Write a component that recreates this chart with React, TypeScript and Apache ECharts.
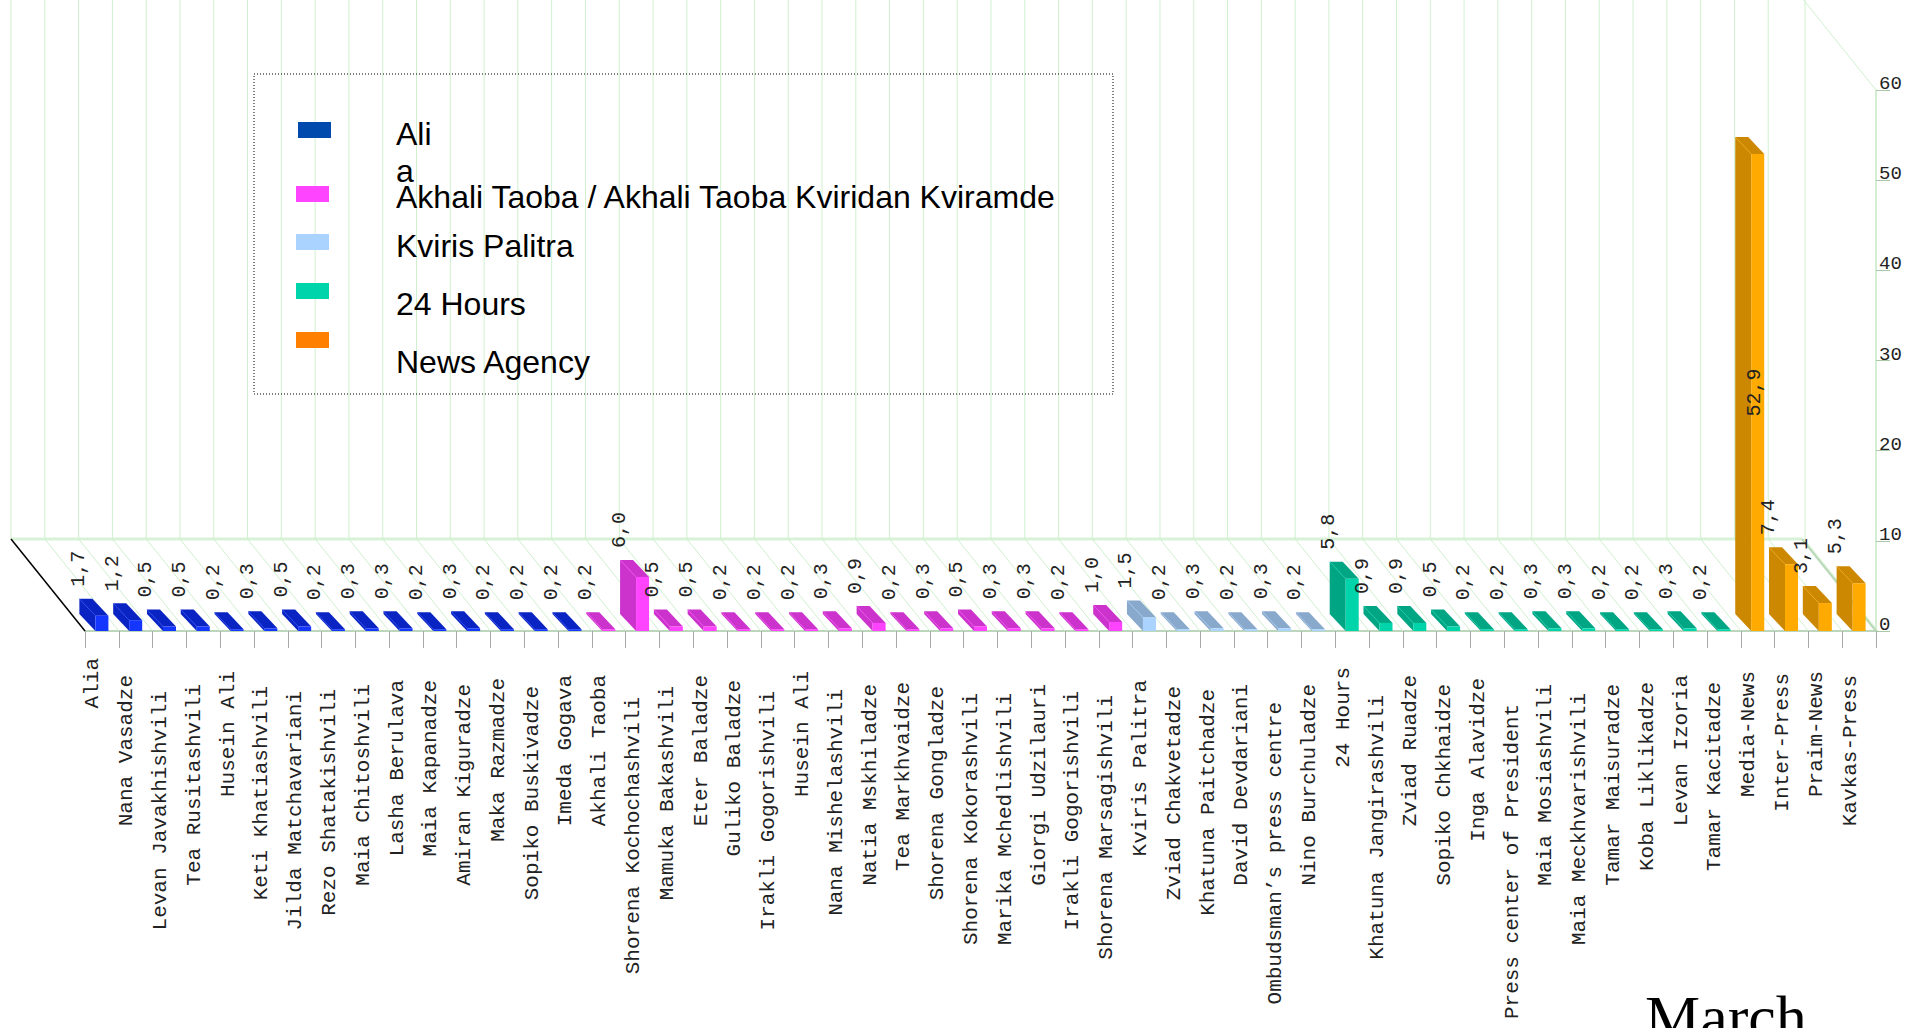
import React, { useEffect, useRef } from 'react';
import * as echarts from 'echarts';

const categories: string[] = [
  'Alia', 'Nana Vasadze', 'Levan Javakhishvili', 'Tea Rusitashvili', 'Husein Ali',
  'Keti Khatiashvili', 'Jilda Matchavariani', 'Rezo Shatakishvili', 'Maia Chitoshvili',
  'Lasha Berulava', 'Maia Kapanadze', 'Amiran Kiguradze', 'Maka Razmadze',
  'Sopiko Buskivadze', 'Imeda Gogava', 'Akhali Taoba', 'Shorena Kochochashvili',
  'Mamuka Bakashvili', 'Eter Baladze', 'Guliko Baladze', 'Irakli Gogorishvili',
  'Husein Ali', 'Nana Mishelashvili', 'Natia Mskhiladze', 'Tea Markhvaidze',
  'Shorena Gongladze', 'Shorena Kokorashvili', 'Marika Mchedlishvili', 'Giorgi Udzilauri',
  'Irakli Gogorishvili', 'Shorena Marsagishvili', 'Kviris Palitra', 'Zviad Chakvetadze',
  'Khatuna Paitchadze', 'David Devdariani', 'Ombudsman\u2019s press centre',
  'Nino Burchuladze', '24 Hours', 'Khatuna Jangirashvili', 'Zviad Ruadze',
  'Sopiko Chkhaidze', 'Inga Alavidze', 'Press center of President', 'Maia Mosiashvili',
  'Maia Meckhvarishvili', 'Tamar Maisuradze', 'Koba Liklikadze', 'Levan Izoria',
  'Tamar Kacitadze', 'Media-News', 'Inter-Press', 'Praim-News', 'Kavkas-Press',
];

const aliaValues = [1.7, 1.2, 0.5, 0.5, 0.2, 0.3, 0.5, 0.2, 0.3, 0.3, 0.2, 0.3, 0.2, 0.2, 0.2];
const akhaliTaobaValues = [0.2, 6.0, 0.5, 0.5, 0.2, 0.2, 0.2, 0.3, 0.9, 0.2, 0.3, 0.5, 0.3, 0.3, 0.2, 1.0];
const kvirisPalitraValues = [1.5, 0.2, 0.3, 0.2, 0.3, 0.2];
const hours24Values = [5.8, 0.9, 0.9, 0.5, 0.2, 0.2, 0.3, 0.3, 0.2, 0.2, 0.3, 0.2];
const newsAgencyValues = [52.9, 7.4, 3.1, 5.3];

const seriesNames = [
  'Alia',
  'Akhali Taoba / Akhali Taoba Kviridan Kviramde',
  'Kviris Palitra',
  '24 Hours',
  'News Agency',
];
const legendLabels = [
  'Ali\na',
  'Akhali Taoba / Akhali Taoba Kviridan Kviramde',
  'Kviris Palitra',
  '24 Hours',
  'News Agency',
];
const yMin = 0;
const yMax = 60;
const yStep = 10;
const periodLabel = 'March';

// styles
const sideColors = ['#0a24c4', '#cc33cc', '#88a8cc', '#00a684', '#cc8800'];
const frontColors = ['#1436ff', '#ff44ff', '#aad4ff', '#00d4aa', '#ffaa00'];
const legendColors = ['#004aad', '#ff44ff', '#aad4ff', '#00d4aa', '#ff7f00'];
const MONO = '"Liberation Mono", "Courier New", monospace';
const SANS = '"Liberation Sans", Arial, sans-serif';
const SERIF = '"Liberation Serif", "Times New Roman", serif';
const GRID_GREEN = '#cff0cf';
const BDX = -74; // depth of floor
const BDY = -92;
const DX = -16; // depth of bars
const DY = -17;
const BAR_RATIO = 0.385;

function fmt(v: number) {
  return v.toFixed(1).replace('.', ',');
}

function buildSeriesData() {
  const groups = [aliaValues, akhaliTaobaValues, kvirisPalitraValues, hours24Values, newsAgencyValues];
  let offset = 0;
  return groups.map((vals) => {
    const d = vals.map((v, i) => [offset + i, v]);
    offset += vals.length;
    return d;
  });
}

function makeBarRender(gi: number) {
  return (params: any, api: any) => {
    const ci = api.value(0);
    const v = api.value(1);
    const top = api.coord([ci, v]);
    const base = api.coord([ci, 0]);
    const band = api.size([1, 0])[0];
    const w = band * BAR_RATIO;
    const xl = top[0] - w / 2;
    const xr = xl + w;
    const yt = top[1];
    const yb = base[1];
    const gridTop = api.coord([ci, yMax])[1];
    const side = sideColors[gi];
    const front = frontColors[gi];
    const text = fmt(v);
    const labelBottom = yt + DY - 12;
    const textLen = text.length * 12;
    const inside = labelBottom - textLen < gridTop;
    const label = inside
      ? {
          type: 'text',
          x: xl + 3,
          y: (yt + yb) / 2,
          rotation: Math.PI / 2,
          style: { text, font: `20px ${MONO}`, fill: '#222', align: 'center', verticalAlign: 'middle' },
        }
      : {
          type: 'text',
          x: xl + DX - 1,
          y: labelBottom,
          rotation: Math.PI / 2,
          style: { text, font: `20px ${MONO}`, fill: '#222', align: 'left', verticalAlign: 'middle' },
        };
    return {
      type: 'group',
      children: [
        {
          type: 'polygon',
          shape: { points: [[xl, yb], [xl, yt], [xl + DX, yt + DY], [xl + DX, yb + DY]] },
          style: { fill: side },
        },
        {
          type: 'polygon',
          shape: { points: [[xl, yt], [xr, yt], [xr + DX, yt + DY], [xl + DX, yt + DY]] },
          style: { fill: side },
        },
        {
          type: 'line',
          shape: { x1: xl + DX, y1: yt + DY, x2: xl, y2: yt },
          style: { stroke: front, lineWidth: 0.8, opacity: 0.6 },
        },
        {
          type: 'rect',
          shape: { x: xl, y: yt, width: w, height: Math.max(0, yb - yt) },
          style: { fill: front },
        },
        label,
      ],
    };
  };
}

function frameRender(params: any, api: any) {
  const ci = api.value(0);
  const p = api.coord([ci, 0]);
  const band = api.size([1, 0])[0];
  const xb = p[0] - band / 2;
  const y0 = p[1];
  const yTop = api.coord([ci, yMax])[1];
  const n = categories.length;
  const children: any[] = [];
  const green = { stroke: GRID_GREEN, lineWidth: 1 };
  // back wall vertical
  children.push({
    type: 'line',
    shape: { x1: xb + BDX, y1: y0 + BDY, x2: xb + BDX, y2: yTop + BDY },
    style: green,
  });
  if (ci === 0) {
    // back floor edge
    children.push({
      type: 'line',
      shape: { x1: xb + BDX, y1: y0 + BDY, x2: xb + BDX + band * n, y2: y0 + BDY },
      style: { stroke: '#d8f2d8', lineWidth: 3 },
    });
    // back wall top
    children.push({
      type: 'line',
      shape: { x1: xb + BDX, y1: yTop + BDY, x2: xb + BDX + band * n, y2: yTop + BDY },
      style: green,
    });
    // left black edge
    children.push({
      type: 'line',
      shape: { x1: xb + BDX, y1: y0 + BDY, x2: xb, y2: y0 },
      style: { stroke: '#000', lineWidth: 1.5 },
    });
  } else {
    children.push({
      type: 'line',
      shape: { x1: xb, y1: y0, x2: xb + BDX, y2: y0 + BDY },
      style: green,
    });
  }
  if (ci === n - 1) {
    const xr = p[0] + band / 2;
    children.push({
      type: 'line',
      shape: { x1: xr, y1: y0, x2: xr + BDX, y2: y0 + BDY },
      style: { stroke: '#b8d8b8', lineWidth: 2 },
    });
    children.push({
      type: 'line',
      shape: { x1: xr + 2, y1: y0, x2: xr + BDX + 2, y2: y0 + BDY },
      style: green,
    });
    children.push({
      type: 'line',
      shape: { x1: xr + BDX + 3, y1: y0 + BDY, x2: xr + BDX + 3, y2: yTop + BDY },
      style: green,
    });
    children.push({
      type: 'line',
      shape: { x1: xr + BDX, y1: yTop + BDY, x2: xr, y2: yTop },
      style: green,
    });
  }
  return { type: 'group', children };
}

function labelRich() {
  const rich: Record<string, any> = {};
  categories.forEach((c) => {
    const L = c.length;
    rich['p' + L] = {
      fontFamily: MONO,
      fontSize: 21,
      color: '#222',
      padding: [0, Math.round(2.2 * L), 18, 0],
    };
  });
  return rich;
}

export default function App() {
  const ref = useRef<HTMLDivElement>(null);
  useEffect(() => {
    if (!ref.current) return;
    const chart = echarts.init(ref.current, undefined, { renderer: 'svg' });
    const groupsData = buildSeriesData();

    const legendGraphics: any[] = [
      {
        type: 'rect',
        shape: { x: 254, y: 74, width: 859, height: 320 },
        style: { fill: 'none', stroke: '#000', lineWidth: 1, lineDash: [1, 2] },
        z: 10,
      },
    ];
    const markerRects = [
      [298, 122],
      [296, 186],
      [296, 234],
      [296, 283],
      [296, 332],
    ];
    const textMid = [152, 197, 246, 304, 362];
    legendLabels.forEach((lbl, i) => {
      legendGraphics.push({
        type: 'rect',
        shape: { x: markerRects[i][0], y: markerRects[i][1], width: 33, height: 16 },
        style: { fill: legendColors[i] },
        z: 10,
      });
      legendGraphics.push({
        type: 'text',
        x: 396,
        y: textMid[i],
        style: {
          text: lbl,
          font: `32px ${SANS}`,
          fill: '#000',
          align: 'left',
          verticalAlign: 'middle',
          lineHeight: 37,
        },
        z: 10,
      });
    });
    legendGraphics.push({
      type: 'text',
      x: 1645,
      y: 986,
      style: {
        text: periodLabel,
        font: `62px ${SERIF}`,
        fill: '#000',
        align: 'left',
        verticalAlign: 'top',
      },
      z: 10,
    });

    const option: any = {
      animation: false,
      backgroundColor: '#ffffff',
      legend: { show: false },
      grid: { left: 85, right: 54, top: 90, bottom: 397, containLabel: false },
      xAxis: {
        type: 'category',
        data: categories,
        boundaryGap: true,
        axisLine: { show: true, lineStyle: { color: '#bcd6bc', width: 2 } },
        axisTick: { show: true, length: 17, alignWithLabel: false, lineStyle: { color: '#a8a8a8' } },
        axisLabel: {
          interval: 0,
          rotate: 90,
          margin: 18,
          fontFamily: MONO,
          fontSize: 21,
          color: '#222',
          formatter: (val: string) => `{p${val.length}|${val}}`,
          rich: labelRich(),
        },
        splitLine: { show: false },
      },
      yAxis: {
        type: 'value',
        min: yMin,
        max: yMax,
        interval: yStep,
        position: 'right',
        axisLine: { show: true, lineStyle: { color: '#c4e8c4', width: 1.5 } },
        axisTick: { show: true, length: 14, lineStyle: { color: '#a8c8a8' } },
        axisLabel: {
          margin: 3,
          fontFamily: MONO,
          fontSize: 19,
          color: '#222',
          verticalAlign: 'bottom',
          lineHeight: 12,
        },
        splitLine: { show: false },
      },
      graphic: legendGraphics,
      series: [
        {
          type: 'custom',
          name: 'frame',
          renderItem: frameRender,
          data: categories.map((_, i) => [i, 0]),
          encode: { x: 0, y: 1 },
          silent: true,
          z: 1,
        },
        ...groupsData.map((d, gi) => ({
          type: 'custom',
          name: seriesNames[gi],
          renderItem: makeBarRender(gi),
          data: d,
          encode: { x: 0, y: 1 },
          itemStyle: { color: legendColors[gi] },
          z: 3,
        })),
      ],
    };
    chart.setOption(option);
    return () => chart.dispose();
  }, []);
  return (
    <div
      ref={ref}
      style={{ position: 'fixed', left: 0, top: 0, width: 1930, height: 1028, background: '#fff' }}
    />
  );
}
